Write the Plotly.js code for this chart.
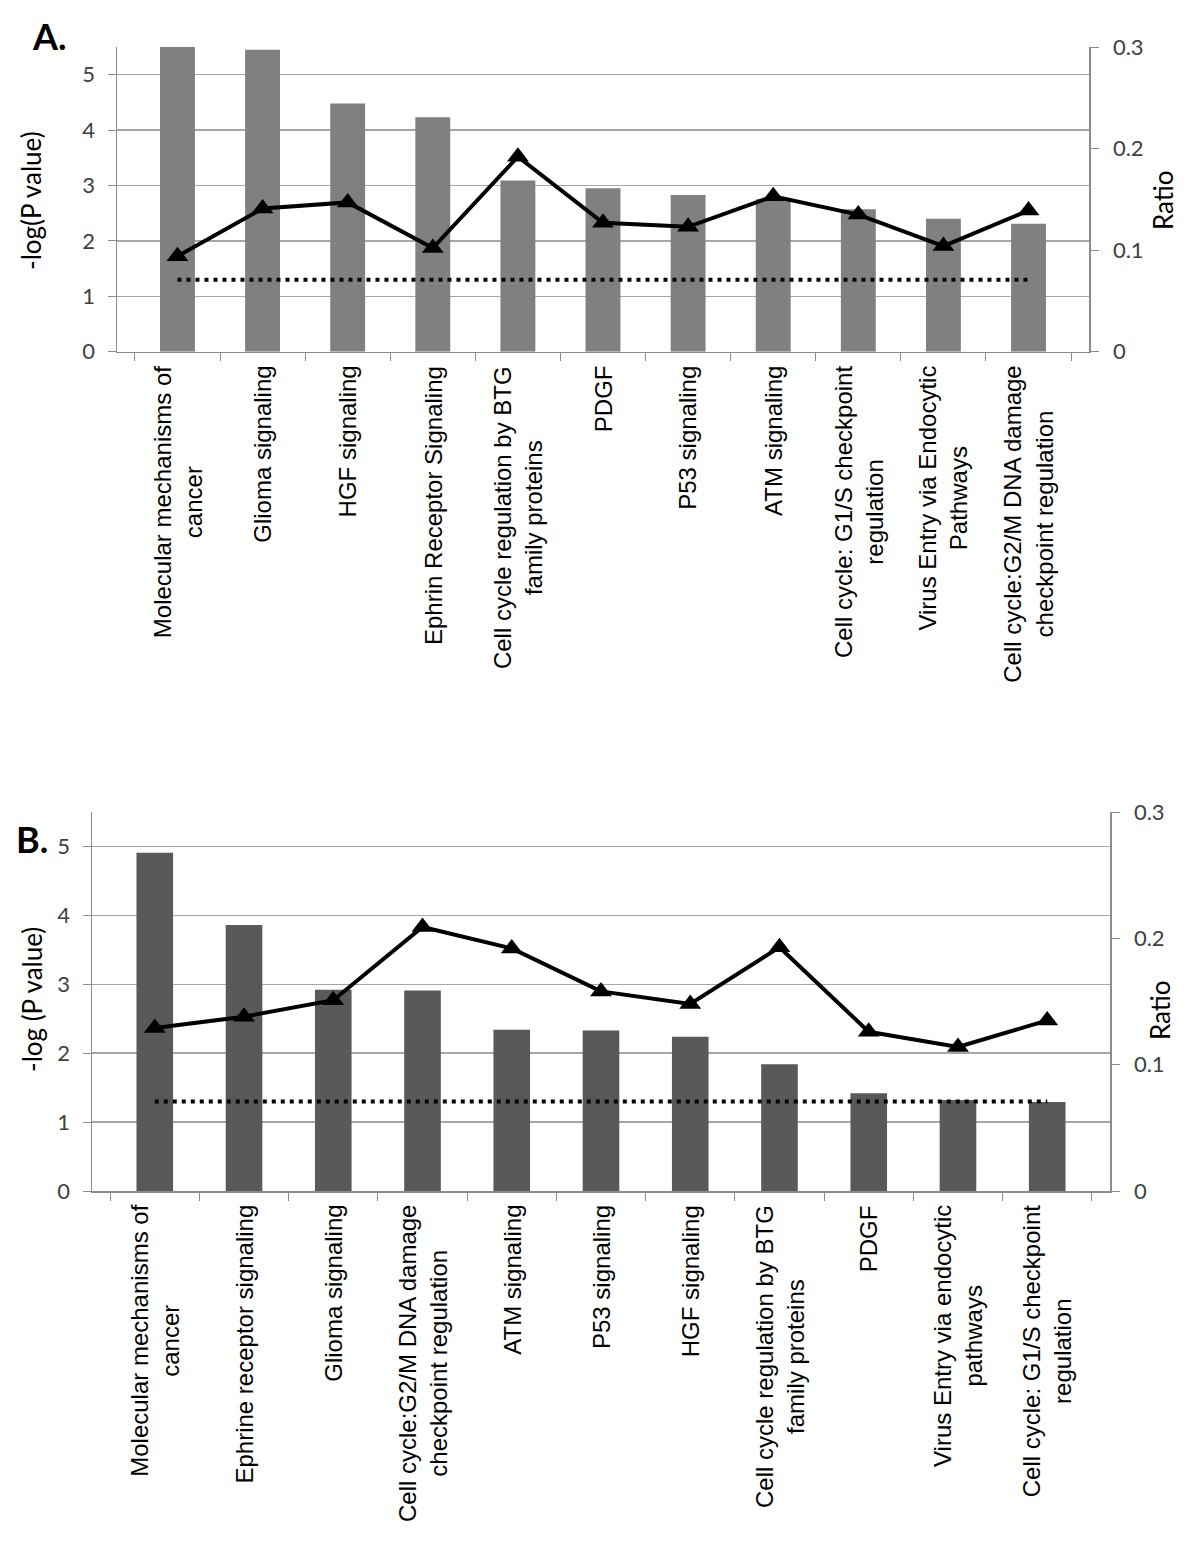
<!DOCTYPE html>
<html>
<head>
<meta charset="utf-8">
<script src="https://cdn.plot.ly/plotly-3.0.1.min.js"></script>
<style>
  body { margin: 0; background: #fff; }
  #chart { width: 1200px; height: 1566px; }
</style>
</head>
<body>
<div id="chart"></div>
<script>
// Panel A
const catsA = [
    'Molecular mechanisms of<br>cancer',
    'Glioma signaling',
    'HGF signaling',
    'Ephrin Receptor Signaling',
    'Cell cycle regulation by BTG<br>family proteins',
    'PDGF',
    'P53 signaling',
    'ATM signaling',
    'Cell cycle: G1/S checkpoint<br>regulation',
    'Virus Entry via Endocytic<br>Pathways',
    'Cell cycle:G2/M DNA damage<br>checkpoint regulation'
];
const logPA = [5.5, 5.45, 4.48, 4.23, 3.09, 2.95, 2.83, 2.75, 2.57, 2.40, 2.31];
const ratioA = [0.094, 0.141, 0.147, 0.102, 0.192, 0.127, 0.123, 0.153, 0.135, 0.104, 0.139];

// Panel B
const catsB = [
    'Molecular mechanisms of<br>cancer',
    'Ephrine receptor signaling',
    'Glioma signaling',
    'Cell cycle:G2/M DNA damage<br>checkpoint regulation',
    'ATM signaling',
    'P53 signaling',
    'HGF signaling',
    'Cell cycle regulation by BTG<br>family proteins',
    'PDGF',
    'Virus Entry via endocytic<br>pathways',
    'Cell cycle: G1/S checkpoint<br>regulation'
];
const logPB = [4.91, 3.86, 2.92, 2.91, 2.34, 2.33, 2.24, 1.84, 1.42, 1.32, 1.29];
const ratioB = [0.129, 0.138, 0.151, 0.209, 0.192, 0.158, 0.148, 0.193, 0.126, 0.114, 0.135];

const threshold = 1.3; // -log(0.05)

const numFont = { family: 'Lato, "Open Sans", sans-serif', size: 22, color: '#404040' };
const catFont = { family: '"Liberation Sans", Arial, sans-serif', size: 24, color: '#000' };

function panelTraces(cats, bars, ratio, xa, ya, ya2, barColor) {
    return [
        {
            x: cats, y: bars, type: 'bar', xaxis: xa, yaxis: ya,
            marker: { color: barColor }, width: 0.41, hoverinfo: 'none'
        },
        {
            x: [cats[0], cats[cats.length - 1]], y: [threshold, threshold],
            type: 'scatter', mode: 'lines', xaxis: xa, yaxis: ya,
            line: { color: '#000', width: 4, dash: '4px,5px' }
        },
        {
            x: cats, y: ratio, type: 'scatter', mode: 'lines+markers',
            xaxis: xa, yaxis: ya2,
            line: { color: '#000', width: 4 },
            marker: { symbol: 'triangle-up', size: 19, color: '#000' }
        }
    ];
}

const data = [
    ...panelTraces(catsA, logPA, ratioA, 'x', 'y', 'y2', '#808080'),
    ...panelTraces(catsB, logPB, ratioB, 'x2', 'y3', 'y4', '#595959')
];

function xAxis(domain, anchor) {
    return {
        domain: domain, anchor: anchor, type: 'category',
        showticklabels: false, showgrid: false,
        showline: true, linecolor: '#8c8c8c', linewidth: 1.5,
        ticks: 'outside', tickson: 'boundaries', ticklen: 8,
        tickcolor: '#8c8c8c', zeroline: false, fixedrange: true
    };
}
function leftAxis(domain, anchor) {
    return {
        domain: domain, anchor: anchor, range: [0, 5.5],
        tickvals: [0, 1, 2, 3, 4, 5], tickfont: numFont,
        showline: true, linecolor: '#8c8c8c', linewidth: 1.5,
        ticks: 'outside', ticklen: 8, tickcolor: '#8c8c8c',
        ticklabelstandoff: 8,
        showgrid: true, gridcolor: '#a6a6a6', gridwidth: 1.5,
        zeroline: false
    };
}
function rightAxis(overlay, anchor) {
    return {
        overlaying: overlay, anchor: anchor, side: 'right', range: [0, 0.3],
        tickvals: [0, 0.1, 0.2, 0.3], ticktext: ['0', '0.1', '0.2', '0.3'],
        tickfont: numFont,
        showline: true, linecolor: '#8c8c8c', linewidth: 1.5,
        ticks: 'outside', ticklen: 8, tickcolor: '#8c8c8c',
        ticklabelstandoff: 10,
        showgrid: false, zeroline: false
    };
}

const domA = [117 / 1200, 1089 / 1200];
const domB = [92 / 1200, 1110 / 1200];
const ydomA = [1 - 351.7 / 1566, 1 - 47 / 1566];
const ydomB = [1 - 1191 / 1566, 1 - 812 / 1566];

const annotations = [];
function catLabels(cats, xref, yref) {
    cats.forEach(c => annotations.push({
        text: c, x: c, xref: xref, y: 0, yref: yref + ' domain',
        yanchor: 'top', xanchor: 'center', yshift: -12,
        textangle: -90, align: 'center', showarrow: false, font: catFont
    }));
}
catLabels(catsA, 'x', 'y');
catLabels(catsB, 'x2', 'y3');

const titleFont = { family: 'Lato, "Open Sans", sans-serif', size: 26, color: '#000' };
const panelFont = { family: 'Lato, "Open Sans", sans-serif', size: 36, color: '#000' };
function sideTitle(text, x, y) {
    return {
        text: text, xref: 'paper', yref: 'paper', x: x / 1200, y: 1 - y / 1566,
        xanchor: 'center', yanchor: 'middle', textangle: -90,
        showarrow: false, font: titleFont
    };
}
annotations.push(
    { text: '<b>A.</b>', xref: 'paper', yref: 'paper', x: 30 / 1200, y: 1 - 12 / 1566,
      xanchor: 'left', yanchor: 'top', showarrow: false, font: panelFont },
    { text: '<b>B.</b>', xref: 'paper', yref: 'paper', x: 14 / 1200, y: 1 - 815 / 1566,
      xanchor: 'left', yanchor: 'top', showarrow: false, font: panelFont },
    sideTitle('-log(P value)', 31, 201),
    sideTitle('Ratio', 1163, 200),
    sideTitle('-log (P value)', 32, 1000),
    sideTitle('Ratio', 1160, 1010)
);

const layout = {
    width: 1200, height: 1566,
    margin: { l: 0, r: 0, t: 0, b: 0 },
    paper_bgcolor: '#fff', plot_bgcolor: 'rgba(0,0,0,0)',
    showlegend: false, bargap: 0.59,
    xaxis: xAxis(domA, 'y'),
    yaxis: leftAxis(ydomA, 'x'),
    yaxis2: rightAxis('y', 'x'),
    xaxis2: xAxis(domB, 'y3'),
    yaxis3: leftAxis(ydomB, 'x2'),
    yaxis4: rightAxis('y3', 'x2'),
    annotations: annotations
};

Plotly.newPlot('chart', data, layout, { staticPlot: true });
</script>
</body>
</html>
